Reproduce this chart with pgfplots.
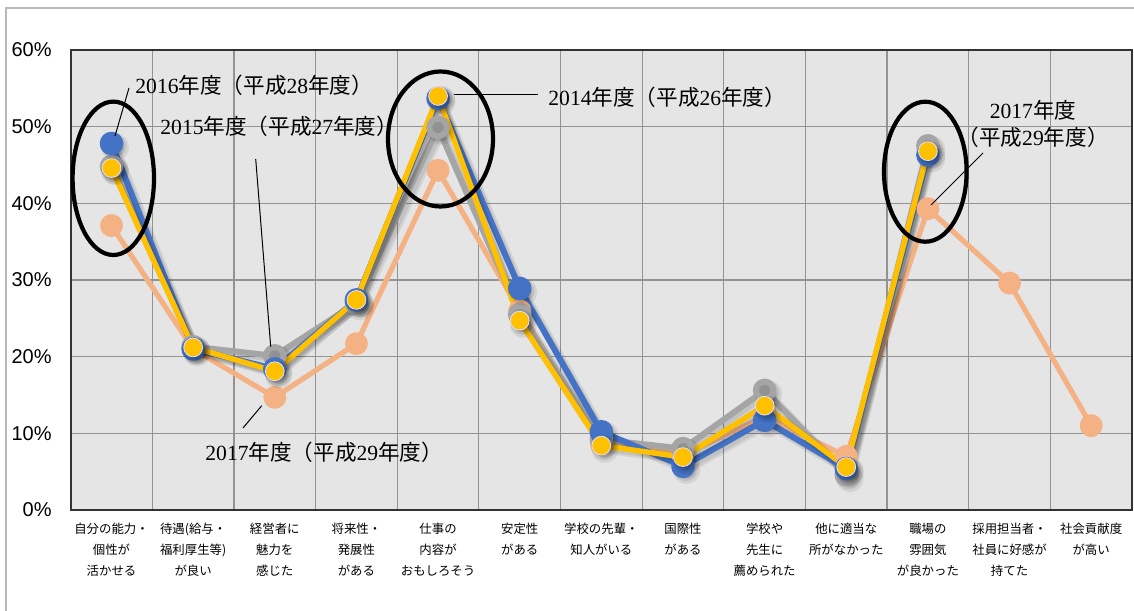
\documentclass[border=0pt]{standalone}
\usepackage{pgfplots}
\pgfplotsset{compat=1.18}
\usepackage{fontspec}
\setmainfont{Liberation Serif}
\newfontfamily\cjk{Noto Sans CJK JP}
\newfontfamily\arial{Liberation Sans}
\definecolor{sblue}{HTML}{4472C4}
\definecolor{sgray}{HTML}{A5A5A5}
\definecolor{sgraym}{HTML}{929292}
\definecolor{speach}{HTML}{F4B183}
\definecolor{syellow}{HTML}{FFC000}
\definecolor{gridc}{HTML}{939393}
\newcommand{\ann}[2]{{\rmfamily #1}{\cjk 年度（平成}{\rmfamily #2}{\cjk 年度）}}
\begin{document}
\begin{tikzpicture}[x=1pt,y=1pt]
\path[use as bounding box] (0,0) rectangle (567,305);
\draw[gray!55, line width=0.6pt] (3,-10) rectangle (580,301);
\begin{axis}[
  at={(35.35pt,50pt)}, anchor=south west,
  scale only axis, width=530.65pt, height=230pt,
  xmin=-0.5, xmax=12.5, ymin=0, ymax=60,
  axis background/.style={fill=gray!20},
  axis line style={draw=black!80, line width=0.8pt},
  ytick={0,10,20,30,40,50,60},
  yticklabels={0\%,10\%,20\%,30\%,40\%,50\%,60\%},
  yticklabel style={font=\arial\fontsize{10}{12}\selectfont, xshift=-6pt},
  xtick={0,...,12},
  minor xtick={-0.5,0.5,1.5,2.5,3.5,4.5,5.5,6.5,7.5,8.5,9.5,10.5,11.5,12.5},
  xticklabels={{自分の能力・\\個性が\\活かせる},{待遇(給与・\\福利厚生等)\\が良い},{経営者に\\魅力を\\感じた},{将来性・\\発展性\\がある},{仕事の\\内容が\\おもしろそう},{安定性\\がある},{学校の先輩・\\知人がいる},{国際性\\がある},{学校や\\先生に\\薦められた},{他に適当な\\所がなかった},{職場の\\雰囲気\\が良かった},{採用担当者・\\社員に好感が\\持てた},{社会貢献度\\が高い}},
  xticklabel style={font=\cjk\fontsize{6.2}{10.5}\selectfont, align=center, anchor=north, yshift=-3pt},
  major tick length=0pt, minor tick length=0pt,
  ymajorgrids, xminorgrids,
  grid style={draw=gridc, line width=0.6pt},
  minor grid style={draw=gridc, line width=0.6pt},
  every axis plot/.append style={line join=round},
  shadow/.style={draw=black, opacity=0.08, line width=#1, xshift=1.8pt, yshift=-1.8pt, mark=*, mark size=4.7pt, mark options={fill=black, draw=none}},
  shadowb/.style={draw=black, opacity=0.08, line width=#1, xshift=1.4pt, yshift=-1.4pt, mark=*, mark size=4.4pt, mark options={fill=black, draw=none}},
]
% 2017
\addplot[draw=speach, line width=2.6pt, mark=*, mark size=4.4pt, mark options={fill=speach, draw=none}] coordinates {
(0,37.1) (1,21.0) (2,14.7) (3,21.7) (4,44.3) (5,26.0) (6,8.6) (7,7.2) (8,12.2) (9,7.0) (10,39.3) (11,29.6) (12,11.0)};
% 2015
\addplot[shadow=4.4pt] coordinates {
(0,44.8) (1,21.3) (2,20.1) (3,27.0) (4,49.9) (5,25.5) (6,9.2) (7,8.0) (8,15.6) (9,4.6) (10,47.5)};
\addplot[shadowb=3.2pt] coordinates {
(0,44.8) (1,21.3) (2,20.1) (3,27.0) (4,49.9) (5,25.5) (6,9.2) (7,8.0) (8,15.6) (9,4.6) (10,47.5)};
\addplot[draw=sgray, line width=3pt, mark=*, mark size=4.4pt, mark options={fill=sgraym, draw=none}] coordinates {
(0,44.8) (1,21.3) (2,20.1) (3,27.0) (4,49.9) (5,25.5) (6,9.2) (7,8.0) (8,15.6) (9,4.6) (10,47.5)};
% 2016
\addplot[shadow=4.4pt] coordinates {
(0,47.8) (1,21.0) (2,18.4) (3,27.4) (4,53.7) (5,28.9) (6,10.2) (7,5.7) (8,11.7) (9,5.4) (10,46.3)};
\addplot[shadowb=3.2pt] coordinates {
(0,47.8) (1,21.0) (2,18.4) (3,27.4) (4,53.7) (5,28.9) (6,10.2) (7,5.7) (8,11.7) (9,5.4) (10,46.3)};
\addplot[draw=sblue, line width=3pt, mark=*, mark size=4.4pt, mark options={fill=sblue, draw=none}] coordinates {
(0,47.8) (1,21.0) (2,18.4) (3,27.4) (4,53.7) (5,28.9) (6,10.2) (7,5.7) (8,11.7) (9,5.4) (10,46.3)};
% 2014
\addplot[shadow=4.2pt] coordinates {
(0,44.6) (1,21.2) (2,18.1) (3,27.4) (4,54.0) (5,24.7) (6,8.4) (7,6.9) (8,13.6) (9,5.6) (10,46.8)};
\addplot[shadowb=3pt] coordinates {
(0,44.6) (1,21.2) (2,18.1) (3,27.4) (4,54.0) (5,24.7) (6,8.4) (7,6.9) (8,13.6) (9,5.6) (10,46.8)};
\addplot[draw=syellow, line width=2.7pt, mark=*, mark size=4.7pt, mark options={fill=syellow, draw=blue!12, line width=0.4pt}] coordinates {
(0,44.6) (1,21.2) (2,18.1) (3,27.4) (4,54.0) (5,24.7) (6,8.4) (7,6.9) (8,13.6) (9,5.6) (10,46.8)};
\end{axis}
% ellipses
\draw[line width=2.1pt] (56.65,215.85) ellipse [x radius=20.35pt, y radius=38.35pt];
\draw[line width=2.1pt] (220.25,235.5) ellipse [x radius=26.25pt, y radius=33.75pt];
\draw[line width=2.1pt] (462.65,219.15) ellipse [x radius=20.65pt, y radius=35pt];
% leader lines
\draw[line width=0.5pt] (64.5,261) -- (57.5,237);
\draw[line width=0.5pt] (127.85,225.5) -- (135.35,131.65);
\draw[line width=0.5pt] (121.5,91) -- (130.85,102.15);
\draw[line width=0.5pt] (227,257.5) -- (269,257.5);
\draw[line width=0.5pt] (491.5,228.5) -- (465.5,202.5);
% texts
\tikzset{annf/.style={font=\fontsize{10.8}{13.5}\selectfont, inner sep=0pt}}
\node[annf, anchor=west] at (67.5,262.5) {\ann{2016}{28}};
\node[annf, anchor=west] at (80,241.65) {\ann{2015}{27}};
\node[annf, anchor=west] at (102.5,78.65) {\ann{2017}{29}};
\node[annf, anchor=west] at (274,256.35) {\ann{2014}{26}};
\node[annf, anchor=center] at (516.5,250) {{\rmfamily 2017}{\cjk 年度}};
\node[annf, anchor=center] at (516.5,236.5) {{\cjk （平成}{\rmfamily 29}{\cjk 年度）}};
\end{tikzpicture}
\end{document}
